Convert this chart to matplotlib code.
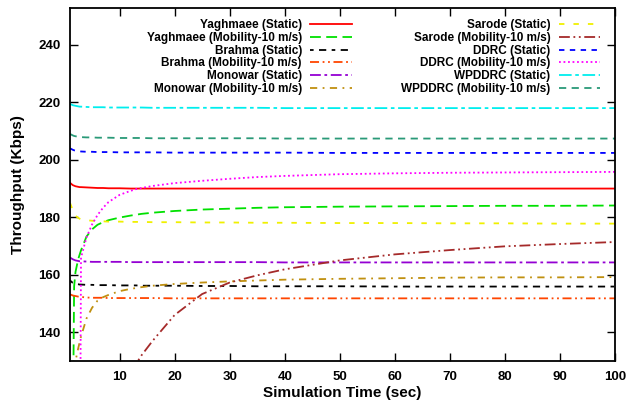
import matplotlib
matplotlib.use("Agg")
import matplotlib.pyplot as plt
import numpy as np

plt.rcParams['font.family'] = ['Liberation Sans', 'DejaVu Sans']
plt.rcParams['font.weight'] = 'bold'

nan = np.nan

# simulation time grid (sec)
time = [1, 1.5, 1.75, 2, 2.5, 2.75, 3, 4, 5, 6, 7, 8, 10, 12, 13, 14, 16,
        20, 25, 30, 35, 40, 50, 60, 70, 80, 90, 100]

# throughput (Kbps)
yaghmaee_static = [192.0, 191.2, 191.0, 190.8, 190.6, 190.5, 190.5, 190.4, 190.3,
                   190.2, 190.2, 190.1, 190.1, 190.0, 190.0, 190.0, 190.0, 190.0,
                   190.0, 190.0, 190.0, 190.0, 190.0, 190.0, 190.0, 190.0, 190.0, 190.0]
yaghmaee_mobile = [nan, 100.0, 156.0, 161.0, 165.5, 167.0, 168.5, 173.3, 175.8,
                   177.4, 178.3, 179.0, 179.9, 180.6, 180.9, 181.2, 181.6, 182.2,
                   182.7, 183.0, 183.3, 183.5, 183.7, 183.8, 183.9, 184.0, 184.0, 184.1]
brahma_static = [158.0, 157.2, 157.0, 156.8, 156.7, 156.6, 156.6, 156.5, 156.5,
                 156.4, 156.4, 156.4, 156.3, 156.3, 156.3, 156.2, 156.2, 156.2,
                 156.1, 156.1, 156.0, 156.0, 156.0, 155.9, 155.9, 155.9, 155.9, 155.9]
brahma_mobile = [153.2, 152.8, 152.7, 152.6, 152.4, 152.3, 152.3, 152.1, 152.0,
                 152.0, 152.0, 151.9, 151.9, 151.9, 151.9, 151.9, 151.9, 151.8,
                 151.8, 151.8, 151.8, 151.8, 151.8, 151.8, 151.8, 151.8, 151.8, 151.8]
monowar_static = [166.0, 165.4, 165.2, 165.0, 164.8, 164.7, 164.7, 164.6, 164.5,
                  164.5, 164.5, 164.5, 164.5, 164.4, 164.4, 164.4, 164.4, 164.4,
                  164.4, 164.4, 164.4, 164.3, 164.3, 164.3, 164.3, 164.3, 164.3, 164.3]
monowar_mobile = [nan, nan, 120.0, 130.0, 134.5, 136.5, 138.5, 144.8, 148.5,
                  151.0, 152.2, 153.0, 154.3, 155.1, 155.4, 155.7, 156.2, 156.8,
                  157.3, 157.7, 158.0, 158.3, 158.6, 158.8, 159.0, 159.1, 159.1, 159.2]
sarode_static = [185.0, 182.5, 181.5, 180.5, 179.8, 179.5, 179.3, 179.0, 178.8,
                 178.7, 178.6, 178.5, 178.5, 178.4, 178.4, 178.4, 178.3, 178.3,
                 178.2, 178.2, 178.1, 178.1, 178.0, 178.0, 177.9, 177.9, 177.8, 177.8]
sarode_mobile = [nan, nan, nan, nan, nan, nan, nan, nan, nan,
                 nan, nan, nan, nan, 126.0, 129.0, 132.0, 137.0, 146.0,
                 153.3, 157.3, 159.8, 161.9, 165.0, 167.1, 168.6, 169.9, 170.7, 171.4]
ddrc_static = [204.0, 203.5, 203.3, 203.2, 203.0, 203.0, 202.9, 202.8, 202.8,
               202.7, 202.7, 202.7, 202.6, 202.6, 202.6, 202.6, 202.6, 202.5,
               202.5, 202.5, 202.5, 202.5, 202.4, 202.4, 202.4, 202.4, 202.4, 202.4]
ddrc_mobile = [nan, nan, nan, nan, nan, 60.0, 166.0, 173.0, 177.5,
               180.8, 183.3, 185.3, 187.8, 189.2, 189.8, 190.2, 190.9, 191.9,
               192.7, 193.4, 194.0, 194.4, 195.0, 195.3, 195.5, 195.6, 195.7, 195.8]
wpddrc_static = [219.5, 219.0, 218.9, 218.8, 218.6, 218.5, 218.5, 218.4, 218.3,
                 218.3, 218.3, 218.2, 218.2, 218.2, 218.2, 218.2, 218.1, 218.1,
                 218.1, 218.1, 218.1, 218.0, 218.0, 218.0, 218.0, 218.0, 218.0, 218.0]
wpddrc_mobile = [209.0, 208.5, 208.3, 208.2, 208.0, 208.0, 207.9, 207.8, 207.8,
                 207.7, 207.7, 207.7, 207.6, 207.6, 207.6, 207.6, 207.5, 207.5,
                 207.5, 207.5, 207.5, 207.4, 207.4, 207.4, 207.4, 207.4, 207.4, 207.4]

# (label, values, colour, dash pattern) in legend order
series = [
    ("Yaghmaee (Static)", yaghmaee_static, "#ff0000", None),
    ("Yaghmaee (Mobility-10 m/s)", yaghmaee_mobile, "#00e000", (6, 3)),
    ("Brahma (Static)", brahma_static, "#000000", (2, 3, 4, 3)),
    ("Brahma (Mobility-10 m/s)", brahma_mobile, "#ff4500", (5, 2, 1, 2, 1, 2)),
    ("Monowar (Static)", monowar_static, "#9400d3", (6, 2, 1.5, 2)),
    ("Monowar (Mobility-10 m/s)", monowar_mobile, "#c09010", (4, 3, 1, 3)),
    ("Sarode (Static)", sarode_static, "#f0f000", (3, 5)),
    ("Sarode (Mobility-10 m/s)", sarode_mobile, "#a52a2a", (6, 2, 1, 2, 1, 2)),
    ("DDRC (Static)", ddrc_static, "#0000ff", (3, 3)),
    ("DDRC (Mobility-10 m/s)", ddrc_mobile, "#ff00ff", (1, 1.5)),
    ("WPDDRC (Static)", wpddrc_static, "#00eeee", (7, 2, 2, 2)),
    ("WPDDRC (Mobility-10 m/s)", wpddrc_mobile, "#2a9a78", (4, 3)),
]

fig = plt.figure(figsize=(6.28, 4.03), dpi=100)
ax = fig.add_subplot(111)
fig.subplots_adjust(left=70 / 628, right=615 / 628, top=1 - 7.5 / 403, bottom=1 - 361 / 403)

for label, vals, color, dash in series:
    line, = ax.plot(time, vals, color=color, lw=1.3, label=label)
    if dash is not None:
        line.set_dashes(dash)

ax.set_xlim(1, 100)
ax.set_ylim(130, 253)
ax.set_xticks(np.arange(10, 101, 10))
ax.set_yticks(np.arange(140, 241, 20))
ax.tick_params(direction='in', top=True, right=True, length=6, width=1,
               labelsize=9.5, pad=7)
for sp in ax.spines.values():
    sp.set_linewidth(1.3)

ax.set_xlabel("Simulation Time (sec)", fontsize=11, fontweight='bold')
ax.set_ylabel("Throughput (Kbps)", fontsize=11, fontweight='bold')
ax.yaxis.set_label_coords(-0.083, 0.5)
ax.xaxis.set_label_coords(0.5, -0.07)

ax.legend(ncol=2, loc='upper right', bbox_to_anchor=(600 / 628, 1 - 19 / 403),
          bbox_transform=fig.transFigure, frameon=False, markerfirst=False,
          fontsize=8.5, handlelength=3.5, handletextpad=0.7, columnspacing=4.2,
          labelspacing=0.07, borderpad=0, borderaxespad=0)

fig.savefig("out.png", dpi=100)
plt.close()
